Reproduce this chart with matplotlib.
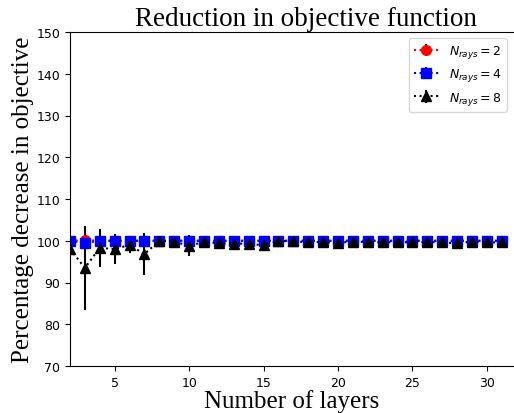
import matplotlib.pyplot as plt
import numpy as np

layers = np.arange(2, 32)

red_vals = [100.0, 100.2] + [100.0] * 28
red_err = [0.5, 1.5] + [0.3] * 28

blue_vals = [100.0, 99.5] + [100.0] * 28
blue_err = [0.8, 1.0, 0.8, 0.6, 0.5, 0.5, 0.3] + [0.3] * 23

black_vals = [98.0, 93.5, 98.3, 98.0, 99.0, 96.8, 100.0, 99.8, 98.8, 99.7,
              99.4, 99.3, 99.3, 98.9, 99.9, 99.9, 99.6, 99.7, 99.5, 99.8,
              99.7, 99.6, 99.7, 99.6, 99.7, 99.6, 99.4, 99.8, 99.6, 99.6]
black_err = [1.5, 10.0, 4.5, 3.5, 2.0, 5.0, 0.5, 0.5, 2.5, 0.7,
             0.8, 0.8, 0.8, 1.0, 0.4, 0.4, 0.8, 0.7, 0.7, 0.5,
             0.6, 0.6, 0.6, 0.6, 0.6, 0.6, 1.0, 0.5, 0.6, 0.6]

fig = plt.figure(figsize=(5.14, 4.14), dpi=100)
# the original is cropped: the axes run past the right edge of the picture
ax = fig.add_axes([70/514, 1 - 367/414, 472/514, (367 - 33)/414])

ax.errorbar(layers, red_vals, yerr=red_err, fmt='o:', color='red', ecolor='black',
            markersize=7, label=r'$N_{rays} = 2$')
ax.errorbar(layers, blue_vals, yerr=blue_err, fmt='s:', color='blue', ecolor='black',
            markersize=7, label=r'$N_{rays} = 4$')
ax.errorbar(layers, black_vals, yerr=black_err, fmt='^:', color='black', ecolor='black',
            markersize=7, label=r'$N_{rays} = 8$')

ax.set_xlim(2, 33.7)
ax.set_ylim(70, 150)
ax.set_xticks([5, 10, 15, 20, 25, 30])
ax.tick_params(labelsize=9)

serif = {'family': 'Liberation Serif'}
ax.set_xlabel('Number of layers', fontdict=serif, fontsize=18)
ax.xaxis.set_label_coords(0.47, -0.07)
ax.set_ylabel('Percentage decrease in objective', fontdict=serif, fontsize=18, labelpad=2)
ax.set_title('Reduction in objective function', fontdict=serif, fontsize=19.5, pad=5)
ax.legend(loc='upper right', bbox_to_anchor=(443/472, 1), fontsize=9)

fig.savefig('out.png', dpi=100)
